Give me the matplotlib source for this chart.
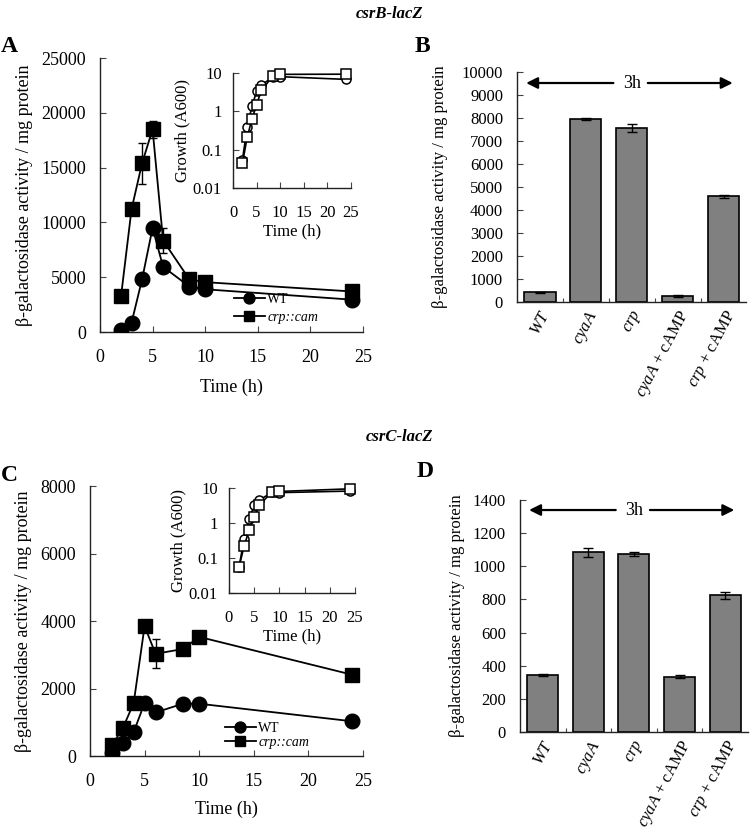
import matplotlib
matplotlib.use("Agg")
import matplotlib.pyplot as plt
import numpy as np

plt.rcParams['font.family'] = ['Liberation Serif', 'DejaVu Serif']
plt.rcParams['mathtext.fontset'] = 'custom'
plt.rcParams['mathtext.rm'] = 'Liberation Serif'
plt.rcParams['mathtext.it'] = 'Liberation Serif:italic'
plt.rcParams['mathtext.bf'] = 'Liberation Serif:bold'

# ---------------- data ----------------
time_h = [2, 3, 4, 5, 6, 8.5, 10, 24]

# Panel A (csrB-lacZ)
a_wt = [200, 850, 4800, 9500, 5950, 4150, 3900, 2950]
a_crp = [3250, 11200, 15400, 18500, 8350, 4800, 4550, 3700]
a_crp_err = [0, 0, 1850, 800, 1150, 0, 0, 0]
a_growth_wt = [0.055, 0.38, 1.35, 3.3, 4.9, 7.8, 8.0, 6.8]
a_growth_crp = [0.045, 0.21, 0.62, 1.5, 3.5, 8.5, 9.2, 9.3]

# Panel C (csrC-lacZ)
c_wt = [100, 390, 710, 1570, 1290, 1550, 1550, 1030]
c_crp = [320, 820, 1570, 3850, 3030, 3170, 3530, 2410]
c_crp_err = [0, 0, 0, 120, 430, 0, 0, 0]
c_growth_wt = [0.055, 0.36, 1.3, 3.2, 4.5, 7.5, 7.4, 8.2]
c_growth_crp = [0.055, 0.22, 0.62, 1.5, 3.2, 7.7, 8.0, 9.5]

# Bar panels
strains = [r'$\mathit{WT}$', r'$\mathit{cyaA}$', r'$\mathit{crp}$',
           r'$\mathit{cyaA}$ + cAMP', r'$\mathit{crp}$ + cAMP']
b_vals = [420, 7950, 7560, 260, 4600]
b_err = [15, 30, 180, 30, 60]
d_vals = [345, 1085, 1075, 335, 825]
d_err = [8, 28, 12, 10, 22]

legend_labels = ['WT', 'crp::cam']
ylab = 'β-galactosidase activity / mg protein'

fig = plt.figure(figsize=(7.5, 8.33), dpi=100)


def style_axes(ax, tick_fs=12, padx=10, pady=8):
    for s in ['top', 'right']:
        ax.spines[s].set_visible(False)
    for s in ['left', 'bottom']:
        ax.spines[s].set_linewidth(1.0)
        ax.spines[s].set_color('#222222')
    ax.tick_params(axis='both', direction='in', length=4, width=0.8,
                   labelsize=tick_fs, color='#444444')
    ax.tick_params(axis='x', pad=padx)
    ax.tick_params(axis='y', pad=pady)


def line_panel(rect, wt, crp, crp_err, ymax, ystep, leg_anchor, leg_spacing,
               xlabpad):
    ax = fig.add_axes(rect)
    ax.plot(time_h, wt, color='k', lw=1.3, marker='o', ms=10.5,
            mfc='k', mec='k', label=legend_labels[0], zorder=3)
    ax.plot(time_h, crp, color='k', lw=1.3, marker='s', ms=10.5,
            mfc='k', mec='k', label=legend_labels[1], zorder=3)
    ax.errorbar(time_h, crp, yerr=crp_err, fmt='none', ecolor='k',
                capsize=3, elinewidth=1.0, zorder=2)
    ax.set_xlim(0, 25)
    ax.set_ylim(0, ymax)
    ax.set_xticks(np.arange(0, 26, 5))
    ax.set_yticks(np.arange(0, ymax + 1, ystep))
    style_axes(ax, tick_fs=13, padx=12, pady=10)
    ax.set_xlabel('Time (h)', fontsize=13, labelpad=xlabpad)
    ax.set_ylabel(ylab, fontsize=13, labelpad=6)
    leg = ax.legend(loc='center left', bbox_to_anchor=leg_anchor,
                    frameon=False, fontsize=10, handlelength=2.2,
                    handletextpad=0.2, labelspacing=leg_spacing,
                    borderpad=0, borderaxespad=0, markerscale=0.75)
    leg.get_texts()[1].set_fontstyle('italic')
    return ax


def inset_panel(rect, gwt, gcrp):
    ax = fig.add_axes(rect)
    ax.plot(time_h, gwt, color='k', lw=1.2, marker='o', ms=6.5,
            mfc='white', mec='k', mew=1.1, zorder=3, clip_on=False)
    ax.plot(time_h, gcrp, color='k', lw=1.2, marker='s', ms=6.5,
            mfc='white', mec='k', mew=1.1, zorder=3, clip_on=False)
    ax.set_yscale('log')
    ax.set_ylim(0.01, 10)
    ax.set_xlim(0, 25)
    ax.set_xticks(np.arange(0, 26, 5))
    ax.set_yticks([0.01, 0.1, 1, 10])
    ax.set_yticklabels(['0.01', '0.1', '1', '10'])
    ax.minorticks_off()
    ax.patch.set_alpha(0)
    style_axes(ax, tick_fs=12, padx=12, pady=8)
    ax.set_xlabel('Time (h)', fontsize=12, labelpad=2)
    ax.set_ylabel('Growth (A600)', fontsize=12, labelpad=2)
    return ax


def bar_panel(rect, vals, errs, ymax, ystep, arrow_y, ylabpad):
    ax = fig.add_axes(rect)
    x = np.arange(len(strains))
    ax.bar(x, vals, width=0.68, color='#808080', edgecolor='k', lw=1.2,
           yerr=errs, capsize=3.5, error_kw=dict(elinewidth=1.0, capthick=1.0),
           zorder=2)
    ax.set_xlim(-0.5, len(strains) - 0.5)
    ax.set_ylim(0, ymax)
    ax.set_yticks(np.arange(0, ymax + 1, ystep))
    ax.set_xticks(x)
    ax.set_xticklabels(strains, rotation=62, ha='right', rotation_mode='anchor',
                       fontsize=12)
    ax.set_xticks(np.arange(0.5, len(strains) - 0.5, 1), minor=True)
    style_axes(ax, tick_fs=12, padx=4, pady=10)
    ax.tick_params(axis='x', which='major', length=0, labelsize=12)
    ax.tick_params(axis='x', which='minor', direction='in', length=3,
                   width=0.8, color='#444444')
    ax.set_ylabel(ylab, fontsize=12, labelpad=ylabpad)
    # "3h" double arrow
    ax.text(0.50, arrow_y, '3h', transform=ax.transAxes, ha='center',
            va='center', fontsize=13)
    for xs, xe in [(0.42, 0.04), (0.57, 0.94)]:
        ax.annotate('', xy=(xe, arrow_y), xytext=(xs, arrow_y),
                    xycoords='axes fraction', textcoords='axes fraction',
                    arrowprops=dict(arrowstyle='-|>', color='k', lw=1.6,
                                    mutation_scale=17, shrinkA=0, shrinkB=0))
    return ax


# Panel A
line_panel([0.1333, 0.6014, 0.3507, 0.3289], a_wt, a_crp, a_crp_err,
           25000, 5000, (0.51, 0.085), 0.35, 9)
inset_panel([0.3107, 0.7743, 0.1573, 0.1381], a_growth_wt, a_growth_crp)

# Panel B
bar_panel([0.6893, 0.6375, 0.3060, 0.2761], b_vals, b_err, 10000, 1000, 0.952, 10)

# Panel C
line_panel([0.12, 0.0924, 0.364, 0.3241], c_wt, c_crp, c_crp_err,
           8000, 2000, (0.495, 0.076), 0.12, 8)
inset_panel([0.3053, 0.2881, 0.168, 0.126], c_growth_wt, c_growth_crp)

# Panel D
bar_panel([0.6933, 0.1212, 0.3040, 0.2785], d_vals, d_err, 1400, 200, 0.957, 6)

# Titles and panel letters
fig.text(390 / 750, 1 - 14 / 833, 'csrB-lacZ', ha='center', va='center',
         fontsize=12, fontweight='bold', fontstyle='italic')
fig.text(400 / 750, 1 - 437 / 833, 'csrC-lacZ', ha='center', va='center',
         fontsize=12, fontweight='bold', fontstyle='italic')
for lab, px, py in [('A', 9, 46), ('B', 422, 46), ('C', 9, 475), ('D', 425, 471)]:
    fig.text(px / 750, 1 - py / 833, lab, ha='center', va='center',
             fontsize=17, fontweight='bold')

fig.savefig('out.png', dpi=100)
